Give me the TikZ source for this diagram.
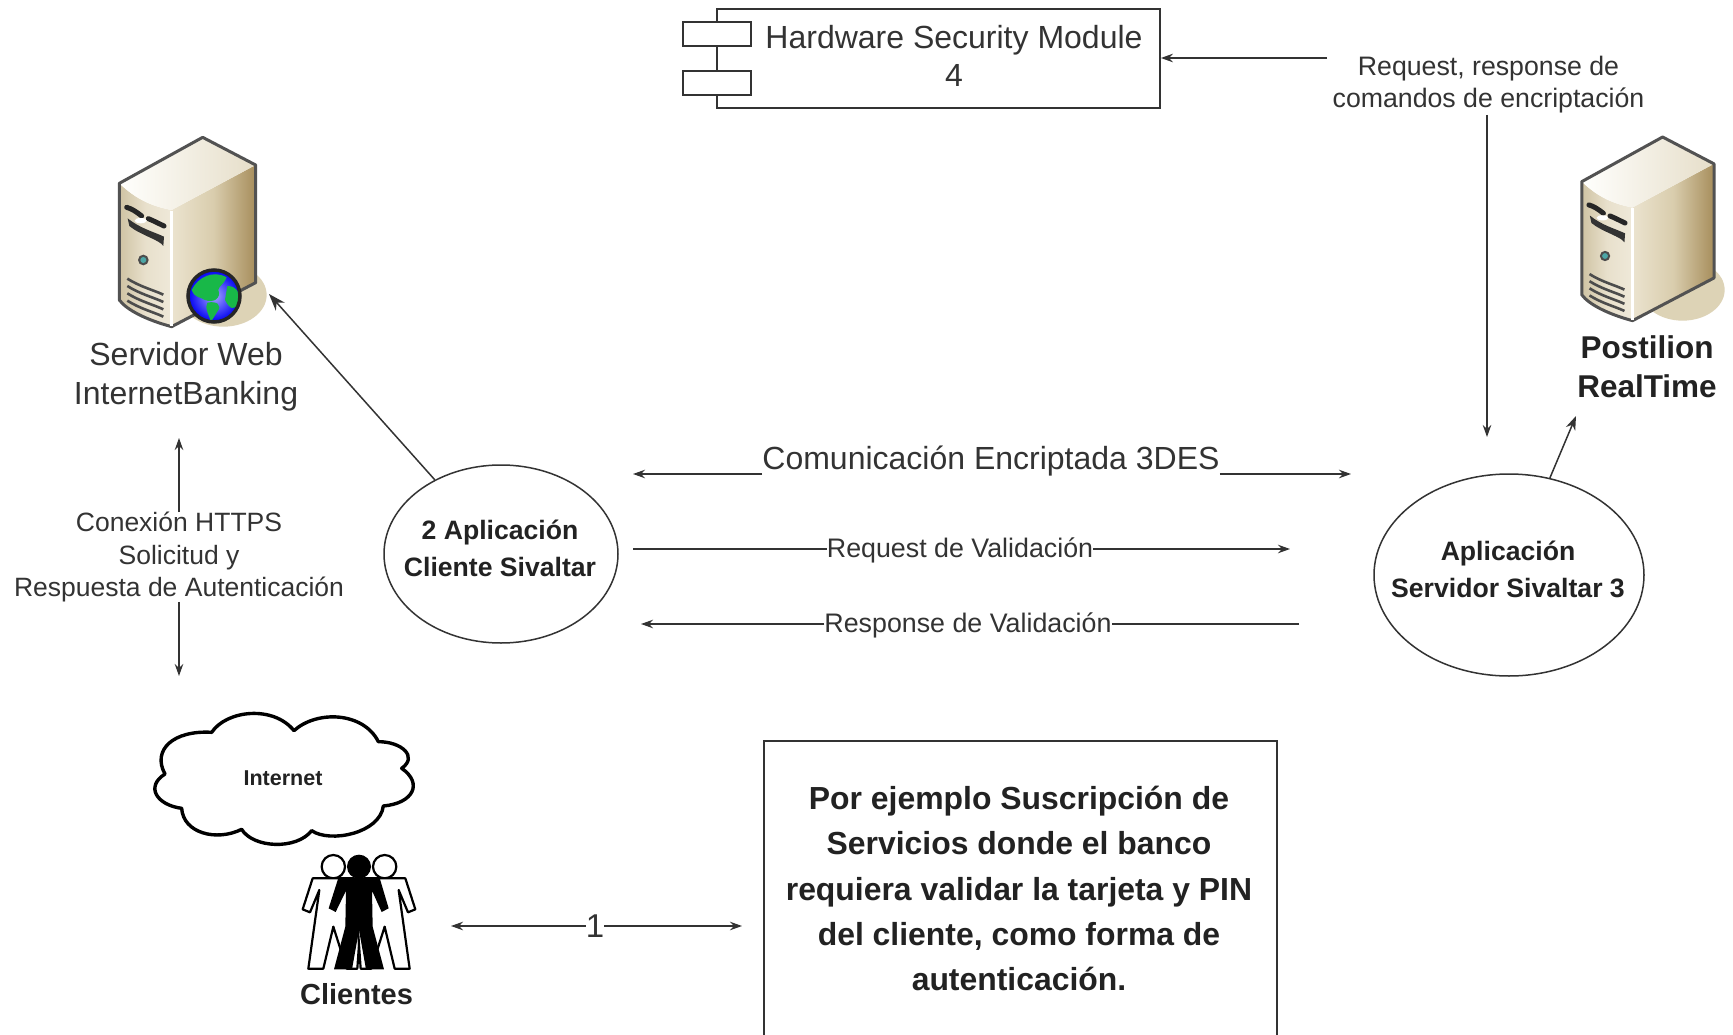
\documentclass[tikz,border=0pt]{standalone}
\usepackage{fontspec}
\setmainfont{Liberation Sans}
\usetikzlibrary{arrows.meta,shapes.geometric}
\definecolor{ink}{HTML}{333333}
\definecolor{bink}{HTML}{222222}
\definecolor{tan}{HTML}{DDD3B6}
\definecolor{frontL}{HTML}{CFC3A3}
\definecolor{frontM}{HTML}{E8E0CC}
\definecolor{frontR}{HTML}{EFE9D9}
\definecolor{sideL}{HTML}{EBE3CF}
\definecolor{sideM}{HTML}{D9CDAD}
\definecolor{sideR}{HTML}{A78E5C}
\definecolor{topL}{HTML}{FFFFFD}
\definecolor{topR}{HTML}{E6DEC9}
\definecolor{land}{HTML}{18B848}
\newcommand{\fs}[1]{\fontsize{#1}{#1}\selectfont}
\tikzset{
  conn/.style={draw=ink,line width=1.5},
  arr/.style={conn,-{Stealth[length=12,width=8.5]}},
  midarr/.style={conn,-{Stealth[length=14,width=10]}},
  bigarr/.style={conn,-{Stealth[length=17,width=12]}},
  lab/.style={text=ink,inner sep=0,align=center},
  blab/.style={text=bink,inner sep=0,align=center},
  flowlab/.style={lab,fill=white,inner xsep=0,inner ysep=2},
  oval/.style={ellipse,draw=ink,line width=1.5,fill=white,inner sep=0},
  facel/.style={draw=ink!85,line width=3,line join=round},
  person/.style={draw=black,line width=2.2,line join=round},
}
% server tower, drawn in 3x zoom coordinates
\newcommand{\servertower}{%
  \fill[tan] (400,525) ellipse [x radius=130,y radius=95];
  \shade[left color=frontL,right color=frontR,middle color=frontM]
    (88,190) .. controls (140,240) and (190,260) .. (245,270) -- (245,620)
    .. controls (170,600) and (110,570) .. (88,540) -- cycle;
  \shade[left color=sideL,right color=sideR,middle color=sideM]
    (245,270) -- (497,135) -- (497,488) -- (245,620) -- cycle;
  \shade[left color=topL,right color=topR]
    (88,190) -- (338,52) -- (497,135) -- (245,270)
    .. controls (190,260) and (140,240) .. (88,190) -- cycle;
  \draw[facel] (88,190) -- (338,52) -- (497,135) -- (497,488) -- (245,620)
    .. controls (170,600) and (110,570) .. (88,540) -- cycle;
  \draw[white,line width=3] (245,272) -- (245,618);
  \draw[black!85,line width=5,line cap=round] (110,262) .. controls (125,266) and (140,276) .. (155,288);
  \draw[black!85,line width=5,line cap=round] (175,296) .. controls (190,302) and (205,310) .. (222,318);
  \fill[black!80] (113,295) .. controls (150,325) and (190,335) .. (222,350) -- (220,378)
     .. controls (210,360) and (150,345) .. (118,318) -- cycle;
  \fill[white] (152,302) ellipse [x radius=18,y radius=8];
  \fill[black!70] (160,420) circle (16);
  \fill[teal!70!white] (160,420) circle (9);
  \foreach \d in {0,22,44,66}
    \draw[black!70,line width=2.6] (112,{476+\d}) .. controls (150,{500+\d}) and (190,{510+\d}) .. (220,{524+\d});
}
\begin{document}
\begin{tikzpicture}[x=1pt,y=-1pt]
\useasboundingbox (0,0) rectangle (1733,1035);
\fill[white] (0,0) rectangle (1733,1035);
\begin{scope}
\clip (0,0) rectangle (1733,1035);

% Servers
\begin{scope}[shift={(90,120)},scale=1/3]
  \servertower
  % globe
  \shade[inner color=blue!35!white,outer color=blue!95!black] (372,528) circle (78);
  \fill[land] (305,510) .. controls (325,470) and (370,450) .. (410,472)
    .. controls (400,495) and (385,500) .. (385,510) .. controls (395,535) and (370,550) .. (345,540)
    .. controls (330,530) and (315,535) .. (305,510) -- cycle;
  \fill[land] (412,498) .. controls (440,498) and (452,520) .. (447,548)
    .. controls (435,572) and (420,570) .. (405,540) -- cycle;
  \fill[land] (352,548) .. controls (380,542) and (398,555) .. (382,575)
    .. controls (372,590) and (368,600) .. (362,604) .. controls (358,585) and (342,565) .. (352,548) -- cycle;
  \draw[black!85,line width=3.5] (372,528) circle (78);
\end{scope}
\begin{scope}[shift={(1466,3.8)},scale=0.97]
\begin{scope}[shift={(90,120)},scale=1/3]
  \servertower
\end{scope}
\end{scope}

% Hardware Security Module
\node[draw=ink,line width=1.8,fill=white,minimum width=443,minimum height=99,inner sep=0] (hsm) at (938.5,58.8) {};
\node[lab,font=\fs{32}] (hsmtext) at (954,56) {Hardware Security Module\\[6.5pt]4};
\node[draw=ink,line width=1.8,fill=white,minimum width=68,minimum height=24.3,inner sep=0] (port1) at (716.7,33.8) {};
\node[draw=ink,line width=1.8,fill=white,minimum width=68,minimum height=24.3,inner sep=0] (port2) at (716.7,82.8) {};
\node[lab,font=\fs{26.7}] (note) at (1488.5,84.5) {Request, response de\\[5.5pt]comandos de encriptación};

% Labels
\node[lab,font=\fs{32}] (weblab) at (186,377) {Servidor Web\\[7pt]InternetBanking};
\node[blab,font=\bfseries\fs{31.5}] (postlab) at (1647,367) {Postilion\\[7.8pt]RealTime};
\node[lab,font=\fs{26.5}] (httpslab) at (179,557) {Conexión HTTPS\\[5.6pt]Solicitud y\\[5.6pt]Respuesta de Autenticación};

% Ovals
\node[oval,minimum width=234,minimum height=178] (client) at (501,554) {};
\node[blab,font=\bfseries\fs{26.6}] (clienttext) at (500,548.5) {2 Aplicación\\[10pt]Cliente Sivaltar};
\node[oval,minimum width=270,minimum height=202] (server) at (1509,575) {};
\node[blab,font=\bfseries\fs{26.6}] (servertext) at (1508,569) {Aplicación\\[10.5pt]Servidor Sivaltar 3};

% Flow labels
\node[flowlab,font=\fs{32}] (comlab) at (991,461.5) {Comunicación Encriptada 3DES};
\node[flowlab,font=\fs{26.8}] (reqlab) at (960,550) {Request de Validación};
\node[flowlab,font=\fs{26.8}] (reslab) at (968,625) {Response de Validación};
\node[flowlab,font=\fs{33}] (onelab) at (595,926) {1};

% Cloud
\begin{scope}[shift={(130,700)},scale=1/3]
  \draw[black,line width=3.4,fill=white,line join=round]
    (245,97) .. controls (290,30) and (430,15) .. (492,92)
    .. controls (560,30) and (700,35) .. (745,125)
    .. controls (815,125) and (865,170) .. (815,205)
    .. controls (880,250) and (850,310) .. (760,318)
    .. controls (750,400) and (600,430) .. (545,392)
    .. controls (500,450) and (370,445) .. (335,388)
    .. controls (260,425) and (160,400) .. (155,325)
    .. controls (80,315) and (45,260) .. (105,222)
    .. controls (65,150) and (130,90) .. (245,97) -- cycle;
  % People
  \draw[person,fill=white] (610,500) circle (35);
  \draw[person,fill=white] (764,500) circle (35);
  \draw[person,fill=white] (548,535) -- (672,535) -- (690,640) -- (690,690) -- (682,806) -- (650,806)
     -- (610,680) -- (580,806) -- (535,806) -- (568,570) -- (540,637) -- (518,628) -- cycle;
  \draw[person,fill=white] (826,535) -- (702,535) -- (684,640) -- (684,690) -- (692,806) -- (724,806)
     -- (764,680) -- (794,806) -- (839,806) -- (806,570) -- (834,637) -- (856,628) -- cycle;
  \fill[black] (687,500) circle (36);
  \fill[black] (625,534) -- (749,534) -- (776,625) -- (755,636) -- (726,572) -- (728,680)
     -- (762,808) -- (708,808) -- (687,690) -- (666,808) -- (612,808) -- (646,680) -- (648,572)
     -- (617,636) -- (596,625) -- cycle;
\end{scope}
\node[blab,font=\bfseries\fs{21.5}] (inetlab) at (283,778) {Internet};
\node[blab,font=\bfseries\fs{29}] (clilab) at (356.5,994.5) {Clientes};

% Text box
\node[draw=ink,line width=1.5,fill=white,minimum width=513,minimum height=320,inner sep=0] (box) at (1020.5,901) {};
\node[blab,font=\bfseries\fs{31.9}] (boxtext) at (1019,888.5) {Por ejemplo Suscripción de\\[13.3pt]Servicios donde el banco\\[13.3pt]requiera validar la tarjeta y PIN\\[13.3pt]del cliente, como forma de\\[13.3pt]autenticación.};

% Free ends
\coordinate (noteOut) at (1327,58);
\coordinate (noteDown) at (1487,115);
\coordinate (toServer) at (1487,437);
\coordinate (webTip) at (269,294);
\coordinate (postTip) at (1576,416);
\coordinate (comL) at (633,474);
\coordinate (comR) at (1351,474);
\coordinate (reqA) at (633,549);
\coordinate (reqB) at (1290,549);
\coordinate (resA) at (1299,624);
\coordinate (resB) at (641,624);
\coordinate (webUp) at (179,438);
\coordinate (netDown) at (179,676);
\coordinate (cliEnd) at (451,926);
\coordinate (boxEnd) at (742,926);

% Connectors
\draw[arr] (noteOut) -- (hsm.east |- noteOut);
\draw[arr] (noteDown) -- (toServer);
\draw[bigarr] (client) -- (webTip);
\draw[midarr] (server) -- (postTip);
\draw[arr] (comlab.west |- comL) -- (comL);
\draw[arr] (comlab.east |- comR) -- (comR);
\draw[conn] (reqA) -- (reqlab.west |- reqA);
\draw[arr] (reqlab.east |- reqB) -- (reqB);
\draw[conn] (resA) -- (reslab.east |- resA);
\draw[arr] (reslab.west |- resB) -- (resB);
\draw[arr] (httpslab.north) -- (webUp);
\draw[arr] (httpslab.south) -- (netDown);
\draw[arr] (onelab) -- (cliEnd);
\draw[arr] (onelab) -- (boxEnd);
\end{scope}
\end{tikzpicture}
\end{document}
